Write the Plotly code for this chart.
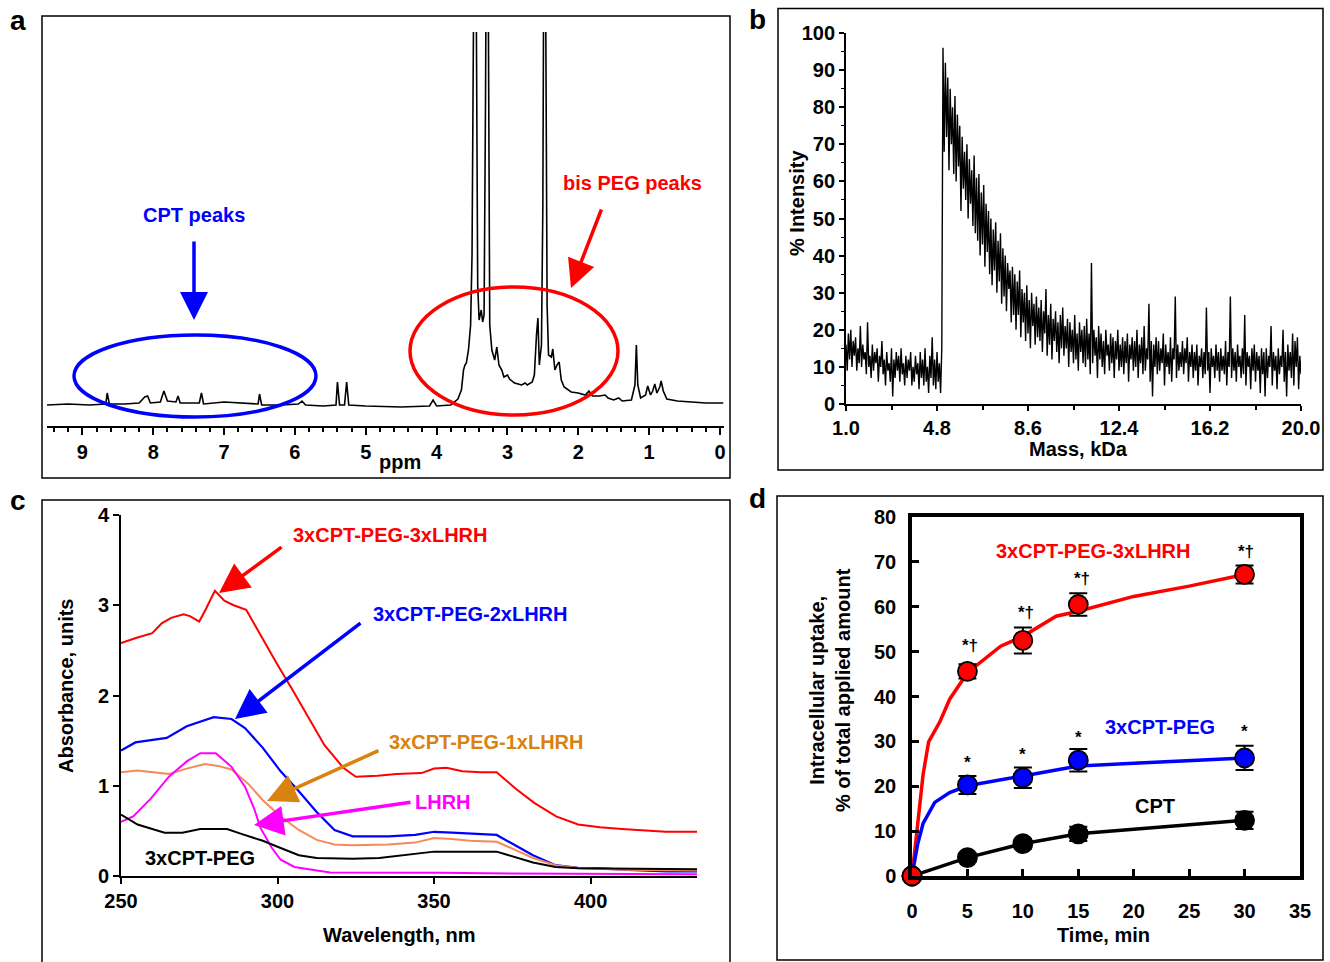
import plotly.graph_objects as go

W, H = 1330, 962
FONT = "Liberation Sans"


def fx(px):
    return px / W


def fy(py):
    return 1 - py / H


# ---------------- Panel a: 1H NMR spectrum (ppm vs relative intensity) ----------------
NMR_PPM = [9.5, 9.2, 8.9, 8.67, 8.65, 8.62, 8.4, 8.2, 8.12, 8.08, 8.04, 7.9, 7.85, 7.8, 7.68, 7.65,
           7.62, 7.35, 7.32, 7.29, 7.0, 6.8, 6.6, 6.52, 6.5, 6.47, 6.2, 5.95, 5.9, 5.85, 5.6, 5.42,
           5.4, 5.37, 5.3, 5.27, 5.24, 5.0, 4.5, 4.1, 4.05, 4.0, 3.8, 3.7, 3.65, 3.62, 3.6, 3.58,
           3.55, 3.52, 3.5, 3.48, 3.46, 3.44, 3.42, 3.4, 3.37, 3.35, 3.33, 3.31, 3.29, 3.27, 3.25,
           3.22, 3.18, 3.15, 3.12, 3.08, 3.05, 3.0, 2.97, 2.9, 2.8, 2.75, 2.72, 2.65, 2.62, 2.59,
           2.57, 2.55, 2.52, 2.5, 2.48, 2.46, 2.44, 2.42, 2.38, 2.36, 2.33, 2.3, 2.27, 2.24, 2.2,
           2.1, 2.0, 1.9, 1.85, 1.8, 1.7, 1.62, 1.58, 1.5, 1.43, 1.38, 1.25, 1.2, 1.18, 1.16, 1.12,
           1.05, 1.02, 0.98, 0.95, 0.92, 0.89, 0.85, 0.83, 0.8, 0.75, 0.6, 0.4, 0.2, 0.0, -0.05]
NMR_INT = [0.0, 0.1, 0.0, 0.1, 1.2, 0.1, 0.1, 0.2, 0.8, 0.9, 0.2, 0.3, 1.4, 0.4, 0.3, 0.9,
           0.2, 0.2, 1.2, 0.1, 0.3, 0.2, 0.1, 0.1, 1.1, 0.0, 0.0, 0.1, 0.4, 0.0, -0.1, 0.0,
           2.3, 0.0, 0.0, 2.3, 0.0, -0.1, -0.2, -0.1, 0.5, -0.1, 0.0, 0.6, 1.5, 3.5, 4.0, 4.2,
           5.5, 8.0, 15.0, 40.0, 60.0, 40.0, 12.0, 8.5, 9.5, 8.3, 9.0, 30.0, 60.0, 40.0, 8.0,
           5.5, 4.5, 5.8, 4.0, 3.5, 2.8, 3.0, 2.6, 2.2, 2.0, 2.2, 2.0, 2.3, 3.0, 7.0,
           8.7, 4.0, 6.0, 20.0, 60.0, 40.0, 10.0, 5.0, 4.8, 5.6, 3.5, 4.0, 4.3, 2.5, 1.8,
           1.3, 1.2, 1.0, 1.4, 0.9, 0.9, 1.0, 0.7, 0.5, 0.7, 0.4, 0.5, 2.0, 6.0, 2.0, 0.7,
           1.0, 1.9, 1.0, 1.4, 2.1, 1.2, 1.8, 2.4, 1.4, 0.6, 0.4, 0.3, 0.2, 0.2, 0.2]

# ---------------- Panel b: MALDI-TOF spectrum (intensities read every 0.05 kDa) ----------------
MASS_START, MASS_END = 1.0, 20.0
MALDI_INTENSITY = [
    # 1.00 - 5.00 kDa
    16, 9, 19, 12, 20, 10, 17, 13, 18, 9, 15, 11, 21, 10, 16, 12, 14, 8, 22, 10,
    13, 7, 16, 9, 14, 11, 15, 6, 13, 10, 17, 8, 12, 5, 14, 9, 11, 6, 15, 2,
    12, 7, 14, 9, 13, 6, 15, 8, 11, 5, 13, 7, 12, 9, 14, 5, 10, 6, 13, 8,
    11, 4, 14, 7, 12, 5, 15, 6, 10, 3, 13, 7, 18, 5, 12, 4, 14, 6, 11, 3,
    15,
    # 5.05 - 20.00 kDa
    96, 68, 92, 72, 88, 63, 85, 70, 80, 62,
    83, 60, 78, 64, 75, 52, 72, 58, 68, 55,
    70, 50, 66, 54, 63, 48, 67, 46, 61, 44,
    62, 40, 57, 43, 59, 37, 54, 41, 52, 35,
    50, 32, 47, 36, 49, 30, 44, 33, 46, 27,
    42, 29, 40, 25, 38, 31, 36, 22, 37, 24,
    35, 20, 33, 24, 36, 18, 31, 22, 30, 17,
    32, 19, 28, 15, 30, 21, 27, 16, 29, 18,
    26, 17, 28, 14, 25, 19, 31, 13, 24, 16,
    27, 12, 23, 17, 25, 14, 22, 11, 24, 15,
    26, 13, 21, 15, 23, 10, 22, 14, 20, 11,
    24, 12, 19, 9, 22, 14, 20, 11, 21, 10,
    23, 12, 19, 8, 38, 11, 20, 13, 18, 7,
    21, 12, 19, 10, 17, 8, 20, 13, 16, 9,
    19, 11, 18, 7, 17, 12, 20, 9, 16, 10,
    18, 8, 17, 11, 19, 6, 16, 12, 18, 9,
    17, 10, 20, 7, 16, 11, 18, 8, 21, 9,
    15, 12, 27, 6, 17, 2, 16, 10, 18, 8,
    17, 9, 15, 11, 19, 5, 16, 10, 14, 8,
    18, 6, 15, 12, 29, 7, 16, 9, 14, 10,
    17, 8, 15, 11, 18, 6, 14, 10, 16, 7,
    14, 9, 16, 5, 13, 10, 15, 7, 14, 8,
    26, 9, 14, 3, 15, 10, 13, 7, 16, 9,
    14, 6, 15, 9, 13, 8, 17, 5, 14, 10,
    29, 7, 15, 9, 14, 6, 16, 10, 13, 7,
    15, 8, 24, 5, 14, 10, 13, 4, 15, 9,
    16, 6, 14, 9, 13, 3, 15, 8, 14, 2,
    15, 7, 13, 10, 21, 5, 14, 9, 13, 4,
    15, 8, 13, 10, 20, 6, 14, 2, 16, 9,
    14, 7, 19, 5, 17, 10, 18, 4, 13, 8,
]
MASS_TICKS = [1.0, 4.8, 8.6, 12.4, 16.2, 20.0]

# ---------------- Panel c: UV-vis spectra ----------------
RED_WL = [250, 255, 260, 263, 266, 270, 272, 275, 277, 280, 283, 286, 290, 295, 300, 305, 311, 315,
          321, 325, 332, 338, 346, 350, 354, 359, 365, 370, 376, 382, 389, 396, 403, 410, 424, 434]
RED_ABS = [2.58, 2.64, 2.69, 2.8, 2.86, 2.9, 2.88, 2.82, 2.95, 3.16, 3.05, 3.0, 2.95, 2.64, 2.34,
           2.05, 1.68, 1.45, 1.2, 1.1, 1.11, 1.13, 1.14, 1.19, 1.2, 1.16, 1.15, 1.15, 0.97, 0.81,
           0.66, 0.57, 0.54, 0.52, 0.49, 0.49]
BLUE_WL = [250, 254.6, 264.6, 271, 279.6, 285.3, 289.6, 295.3, 301, 306.8, 312.5, 318.2, 324,
           335.4, 344, 350, 355.7, 370, 375.9, 381.6, 388.8, 396, 403, 410, 424.4, 434]
BLUE_ABS = [1.39, 1.48, 1.53, 1.66, 1.76, 1.74, 1.64, 1.42, 1.16, 0.94, 0.71, 0.51, 0.44, 0.44,
            0.455, 0.49, 0.48, 0.455, 0.34, 0.23, 0.12, 0.09, 0.085, 0.07, 0.05, 0.05]
ORANGE_WL = [250, 255.3, 265.3, 271, 276.8, 281, 285.3, 291, 295.3, 301, 306.8, 312.5, 318.2, 324,
             335.4, 344, 350, 355.7, 361.5, 370, 375.9, 381.6, 388.8, 396, 410, 434]
ORANGE_ABS = [1.15, 1.17, 1.13, 1.19, 1.24, 1.22, 1.18, 1.01, 0.84, 0.66, 0.51, 0.40, 0.35, 0.34,
              0.35, 0.37, 0.42, 0.41, 0.39, 0.38, 0.29, 0.2, 0.12, 0.09, 0.07, 0.06]
MAGENTA_WL = [250, 253.9, 259.6, 265.3, 271, 275.3, 280.3, 285.3, 289.6, 292.5, 294.6, 298.2, 301,
              305.4, 311, 316.8, 352.6, 367, 434]
MAGENTA_ABS = [0.6, 0.66, 0.86, 1.1, 1.27, 1.36, 1.36, 1.21, 0.99, 0.75, 0.53, 0.31, 0.18, 0.1,
               0.07, 0.04, 0.037, 0.03, 0.02]
BLACK_WL = [250, 255.3, 263.9, 269.6, 275.3, 283.9, 288.2, 295.3, 301, 306.8, 312.5, 324, 332.5,
            341, 350, 370, 375.9, 381.6, 388.8, 396, 434]
BLACK_ABS = [0.68, 0.57, 0.48, 0.48, 0.52, 0.52, 0.47, 0.39, 0.31, 0.23, 0.2, 0.19, 0.2, 0.23,
             0.27, 0.27, 0.21, 0.15, 0.1, 0.085, 0.075]

# ---------------- Panel d: uptake kinetics ----------------
TIME_PTS = [0, 5, 10, 15, 30]
RED_PTS = [0, 45.6, 52.5, 60.5, 67.2]
RED_ERR = [0, 1.6, 2.9, 2.5, 2.0]
BLUE_PTS = [0, 20.3, 21.9, 25.8, 26.3]
BLUE_ERR = [0, 2.0, 2.3, 2.5, 2.7]
BLACK_PTS = [0, 4.1, 7.2, 9.4, 12.4]
BLACK_ERR = [0, 1.0, 1.1, 1.6, 1.9]
RED_FIT_T = [0, 0.5, 1.0, 1.5, 2.5, 3.4, 5, 8, 10, 13, 15, 20, 25, 30]
RED_FIT_V = [0, 12, 22.6, 29.9, 34.3, 39.4, 45.3, 51.2, 53.4, 57.9, 59, 62.3, 64.6, 67.2]
BLUE_FIT_T = [0, 0.5, 1.0, 2.05, 3.4, 5, 10, 15, 20, 30]
BLUE_FIT_V = [0, 7, 11.7, 16.4, 18.6, 20.1, 22.3, 24.5, 25.1, 26.3]
SIG_RED_T = [5.2, 10.3, 15.3, 30.1]
SIG_RED_V = [51.4, 58.8, 66.2, 72.4]
SIG_BLUE_T = [5.0, 10.0, 15.0, 30.0]
SIG_BLUE_V = [25.2, 27.1, 30.8, 32.3]

RED = "#ff0000"
BLUE = "#0000ff"
MAGENTA = "#ff00ff"
ORANGE_LINE = "#f58a58"
ORANGE_TEXT = "#d8820f"

fig = go.Figure()

# Panel a
fig.add_trace(go.Scatter(x=NMR_PPM, y=NMR_INT, mode="lines", line=dict(color="black", width=1.6),
                         xaxis="x", yaxis="y", showlegend=False))

# Panel b
n = len(MALDI_INTENSITY)
mass = [MASS_START + (MASS_END - MASS_START) * i / (n - 1) for i in range(n)]
fig.add_trace(go.Scatter(x=mass, y=MALDI_INTENSITY, mode="lines", line=dict(color="black", width=1.4),
                         xaxis="x2", yaxis="y2", showlegend=False))

# Panel c
for wl, ab, col, w in [(RED_WL, RED_ABS, RED, 2), (BLUE_WL, BLUE_ABS, BLUE, 2.2),
                       (ORANGE_WL, ORANGE_ABS, ORANGE_LINE, 2), (MAGENTA_WL, MAGENTA_ABS, MAGENTA, 2),
                       (BLACK_WL, BLACK_ABS, "black", 2)]:
    fig.add_trace(go.Scatter(x=wl, y=ab, mode="lines", line=dict(color=col, width=w),
                             xaxis="x3", yaxis="y3", showlegend=False))

# Panel d
fig.add_trace(go.Scatter(x=RED_FIT_T, y=RED_FIT_V, mode="lines", line=dict(color=RED, width=3.5),
                         xaxis="x4", yaxis="y4", showlegend=False))
fig.add_trace(go.Scatter(x=BLUE_FIT_T, y=BLUE_FIT_V, mode="lines", line=dict(color=BLUE, width=3.5),
                         xaxis="x4", yaxis="y4", showlegend=False))
fig.add_trace(go.Scatter(x=TIME_PTS, y=BLACK_PTS, mode="lines", line=dict(color="black", width=3.5),
                         xaxis="x4", yaxis="y4", showlegend=False))
for pts, err, col in [(BLACK_PTS, BLACK_ERR, "black"), (BLUE_PTS, BLUE_ERR, BLUE), (RED_PTS, RED_ERR, RED)]:
    fig.add_trace(go.Scatter(x=TIME_PTS, y=pts, mode="markers",
                             marker=dict(size=19, color=col, line=dict(color="black", width=1.8)),
                             error_y=dict(type="data", array=err, visible=True, color="black",
                                          thickness=2, width=9),
                             cliponaxis=False, xaxis="x4", yaxis="y4", showlegend=False))

tickfont = dict(family=FONT, size=20, color="black", weight="bold")

layout = dict(
    width=W, height=H, autosize=False,
    margin=dict(l=0, r=0, t=0, b=0, pad=0, autoexpand=False),
    paper_bgcolor="white", plot_bgcolor="white",
    font=dict(family=FONT, color="black"),
    hovermode=False,
    # Panel a axes
    xaxis=dict(domain=[fx(47), fx(723.5)], range=[9.5, -0.05], anchor="y", showline=True,
               linewidth=2.2, linecolor="black", ticks="outside", ticklen=7, tickwidth=1.8,
               tickcolor="black", tick0=0, dtick=1, showgrid=False, zeroline=False,
               tickfont=tickfont, automargin=False,
               minor=dict(dtick=0.2, tick0=0, ticks="outside", ticklen=4, tickwidth=1.5,
                          tickcolor="black", showgrid=False)),
    yaxis=dict(domain=[fy(426), fy(32)], range=[-2.1, 37.3], anchor="x", visible=False,
               automargin=False),
    # Panel b axes
    xaxis2=dict(domain=[fx(846), fx(1301)], range=[MASS_START, MASS_END], anchor="y2",
                showline=True, linewidth=1.8, linecolor="black", ticks="outside", ticklen=5,
                tickwidth=1.5, tickcolor="black", tickmode="array", tickvals=MASS_TICKS,
                ticktext=["%.1f" % v for v in MASS_TICKS], showgrid=False, zeroline=False,
                tickfont=tickfont, automargin=False,
                minor=dict(tick0=2.9, dtick=3.8, ticks="outside", ticklen=4, tickwidth=1.5,
                           tickcolor="black", showgrid=False)),
    yaxis2=dict(domain=[fy(404), fy(33)], range=[0, 100], anchor="x2", showline=True,
                linewidth=1.8, linecolor="black", ticks="outside", ticklen=5, tickwidth=1.5,
                tickcolor="black", dtick=10, showgrid=False, zeroline=False, tickfont=tickfont,
                automargin=False,
                minor=dict(dtick=5, ticks="outside", ticklen=3, tickwidth=1.2,
                           tickcolor="black", showgrid=False)),
    # Panel c axes
    xaxis3=dict(domain=[fx(121), fx(697)], range=[250, 434], anchor="y3", showline=True,
                linewidth=2, linecolor="black", ticks="outside", ticklen=6, tickwidth=1.8,
                tickcolor="black", dtick=50, showgrid=False, zeroline=False, tickfont=tickfont,
                automargin=False),
    yaxis3=dict(domain=[fy(876), fy(515)], range=[0, 4], anchor="x3", showline=True,
                linewidth=2, linecolor="black", ticks="outside", ticklen=6, tickwidth=1.8,
                tickcolor="black", dtick=1, showgrid=False, zeroline=False, tickfont=tickfont,
                automargin=False),
    # Panel d axes
    xaxis4=dict(domain=[fx(912), fx(1300)], range=[0, 35], anchor="y4", showline=True,
                mirror=True, linewidth=3.5, linecolor="black", ticks="inside", ticklen=7,
                tickwidth=2.5, tickcolor="black", dtick=5, showgrid=False, zeroline=False,
                tickfont=tickfont, ticklabelstandoff=14, automargin=False),
    yaxis4=dict(domain=[fy(876), fy(517)], range=[0, 80], anchor="x4", showline=True,
                mirror=True, linewidth=3.5, linecolor="black", ticks="inside", ticklen=7,
                tickwidth=2.5, tickcolor="black", dtick=10, showgrid=False, zeroline=False,
                tickfont=tickfont, ticklabelstandoff=8, automargin=False),
)
fig.update_layout(**layout)

shapes = []
# panel frames
for x0, y0, x1, y1 in [(42, 16, 730, 478), (778, 8.5, 1323, 470), (42, 500, 730, 975), (777, 496, 1323, 960)]:
    shapes.append(dict(type="rect", xref="paper", yref="paper", x0=fx(x0), x1=fx(x1), y0=fy(y1), y1=fy(y0),
                       line=dict(color="black", width=1.5), fillcolor="rgba(0,0,0,0)"))
# ellipses in panel a
shapes.append(dict(type="circle", xref="paper", yref="paper", x0=fx(74), x1=fx(316), y0=fy(417), y1=fy(335),
                   line=dict(color=BLUE, width=3.5)))
shapes.append(dict(type="circle", xref="paper", yref="paper", x0=fx(410), x1=fx(618), y0=fy(415), y1=fy(287),
                   line=dict(color=RED, width=3.5)))
fig.update_layout(shapes=shapes)

annotations = []


def ann(text, px, py, size=20, color="black", angle=0, bold=True):
    annotations.append(dict(text=text, xref="paper", yref="paper", x=fx(px), y=fy(py),
                            xanchor="center", yanchor="middle", showarrow=False, textangle=angle,
                            font=dict(family=FONT, size=size, color=color,
                                      weight="bold" if bold else "normal")))


def ann_data(text, x, y, xref, yref, size=20, color="black"):
    annotations.append(dict(text=text, xref=xref, yref=yref, x=x, y=y, xanchor="center",
                            yanchor="middle", showarrow=False,
                            font=dict(family=FONT, size=size, color=color, weight="bold")))


def arrow(hx, hy, tx, ty, color, width=3.5, size=1.7):
    annotations.append(dict(text="", xref="paper", yref="paper", x=fx(hx), y=fy(hy),
                            ax=tx - hx, ay=ty - hy, axref="pixel", ayref="pixel", showarrow=True,
                            arrowhead=2, arrowsize=size, arrowwidth=width, arrowcolor=color,
                            standoff=0))


# panel letters
ann("a", 18, 20, size=28)
ann("b", 757, 19, size=28)
ann("c", 18, 500, size=28)
ann("d", 757, 499, size=28)

# panel a texts
ann("ppm", 400, 462, size=20)
ann("CPT peaks", 194, 215, size=20, color=BLUE)
arrow(194, 320, 194, 240, BLUE, width=3.5, size=1.6)
ann("bis PEG peaks", 632, 183, size=20, color=RED)
arrow(571, 288, 602, 208, RED, width=3.5, size=1.6)

# panel b texts
ann("% Intensity", 797, 203, size=20, angle=-90)
ann("Mass, kDa", 1078, 449, size=20)

# panel c texts
ann("Absorbance, units", 66, 686, size=20, angle=-90)
ann("Wavelength, nm", 399, 935, size=20)
ann("3xCPT-PEG-3xLHRH", 390, 535, size=20, color=RED)
arrow(219, 593, 283, 546, RED, width=3.5, size=1.7)
ann("3xCPT-PEG-2xLHRH", 470, 614, size=20, color=BLUE)
arrow(235, 719, 362, 622, BLUE, width=3.5, size=1.7)
ann("3xCPT-PEG-1xLHRH", 486, 742, size=20, color=ORANGE_TEXT)
arrow(267, 801, 380, 750, ORANGE_TEXT, width=3.5, size=1.7)
ann("LHRH", 443, 802, size=20, color=MAGENTA)
arrow(254, 825, 412, 802, MAGENTA, width=3.5, size=1.7)
ann("3xCPT-PEG", 200, 858, size=20)

# panel d texts
ann("Intracellular uptake,<br>% of total applied amount", 830, 690, size=20, angle=-90)
ann("Time, min", 1103, 935, size=20)
ann_data("3xCPT-PEG-3xLHRH", 16.4, 72.5, "x4", "y4", size=20, color=RED)
ann_data("3xCPT-PEG", 22.4, 33.2, "x4", "y4", size=20, color=BLUE)
ann_data("CPT", 21.9, 15.6, "x4", "y4", size=20, color="black")
for t, v in zip(SIG_RED_T, SIG_RED_V):
    ann_data("*\u2020", t, v, "x4", "y4", size=17)
for t, v in zip(SIG_BLUE_T, SIG_BLUE_V):
    ann_data("*", t, v, "x4", "y4", size=17)

fig.update_layout(annotations=annotations)

# Let the figure fill the 1330x962 window exactly (no default body margin), without modebar.
fig.write_html("out.html", config={"displayModeBar": False},
               post_script="document.body.style.margin='0';document.body.style.overflow='hidden';")
